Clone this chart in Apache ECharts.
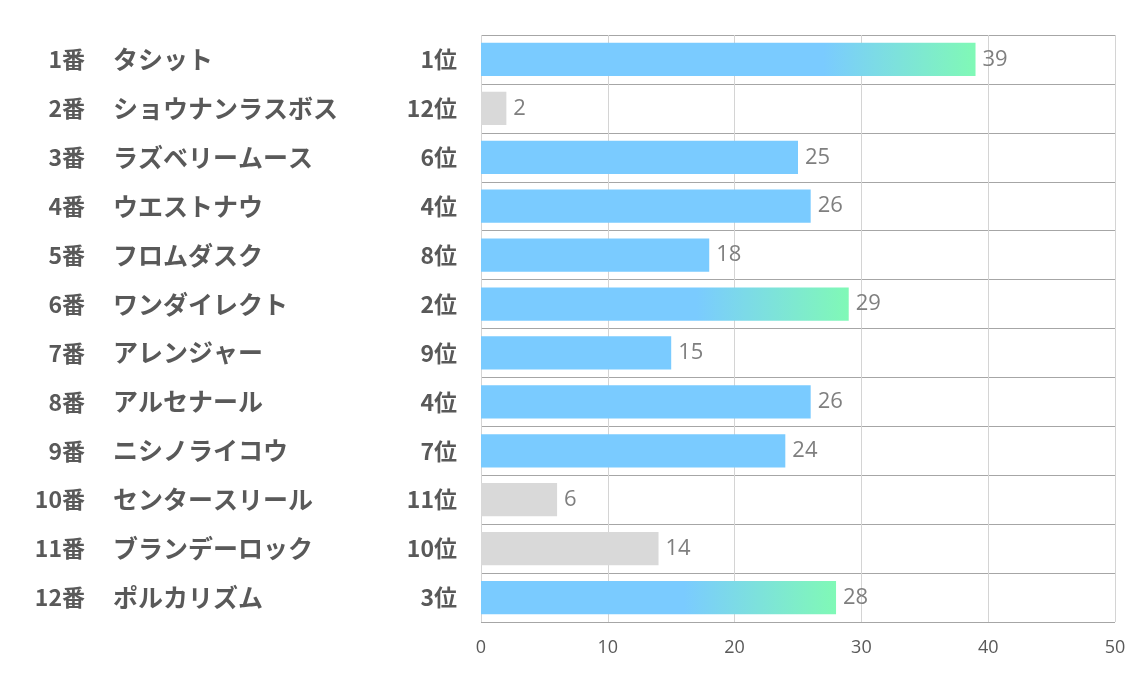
<!DOCTYPE html>
<html><head><meta charset="utf-8">
<script src="https://cdn.jsdelivr.net/npm/echarts@6/dist/echarts.min.js"></script>
<style>html,body{margin:0;padding:0;background:#fff}#c{width:1134px;height:680px}</style>
</head><body><div id="c"></div>
<script>
const numbers = ['1番','2番','3番','4番','5番','6番','7番','8番','9番','10番','11番','12番'];
const names = ['タシット','ショウナンラスボス','ラズベリームース','ウエストナウ','フロムダスク','ワンダイレクト','アレンジャー','アルセナール','ニシノライコウ','センタースリール','ブランデーロック','ポルカリズム'];
const ranks = [1,12,6,4,8,2,9,4,7,11,10,3];
const values = [39,2,25,26,18,29,15,26,24,6,14,28];
const xTicks = {min:0, max:50, interval:10};

const BLUE = '#7acbff', GREEN = '#80f9b6', GRAY = '#d9d9d9';
function barColor(v, r){
  if (r >= 10) return GRAY;
  if (r <= 3) {
    const o = Math.max(0, (v - 12) / v);
    return new echarts.graphic.LinearGradient(0,0,1,0,[
      {offset:0,color:BLUE},{offset:o,color:BLUE},{offset:1,color:GREEN}]);
  }
  return BLUE;
}
const cats = numbers.map((n,i)=>i);
const font = '"Noto Sans CJK JP", sans-serif';
const chart = echarts.init(document.getElementById('c'));
const labelBase = {fontFamily:font, fontWeight:'bold', fontSize:23, color:'#595959'};
chart.setOption({
  animation:false,
  grid:{left:481, right:19, top:35, bottom:58},
  xAxis:{type:'value', min:xTicks.min, max:xTicks.max, interval:xTicks.interval,
    axisLine:{show:false}, axisTick:{show:false},
    axisLabel:{fontSize:18, color:'#595959', margin:17, fontFamily:'"Open Sans", sans-serif'},
    splitLine:{lineStyle:{color:'#d4d4d4', width:1}}},
  yAxis:[
    {type:'category', data:cats, inverse:true, position:'left',
     axisLine:{show:false}, axisTick:{show:false},
     splitLine:{show:true, lineStyle:{color:'#a6a6a6', width:1}},
     axisLabel:Object.assign({}, labelBase, {margin:24, align:'right', formatter:(v)=>ranks[v]+'位'})},
    {type:'category', data:cats, inverse:true, position:'left',
     axisLine:{show:false}, axisTick:{show:false}, splitLine:{show:false},
     axisLabel:Object.assign({}, labelBase, {fontSize:25, margin:368, align:'left', formatter:(v)=>names[v]})},
    {type:'category', data:cats, inverse:true, position:'left',
     axisLine:{show:false}, axisTick:{show:false}, splitLine:{show:false},
     axisLabel:Object.assign({}, labelBase, {margin:396, align:'right', formatter:(v)=>numbers[v]})}
  ],
  series:[{
    type:'bar', yAxisIndex:0, barCategoryGap:'32%',
    data: values.map((v,i)=>({value:v, itemStyle:{color:barColor(v, ranks[i])}})),
    label:{show:true, position:'right', distance:7, fontSize:22, color:'#7f7f7f', fontFamily:'"Open Sans", sans-serif'}
  }]
});
</script></body></html>
